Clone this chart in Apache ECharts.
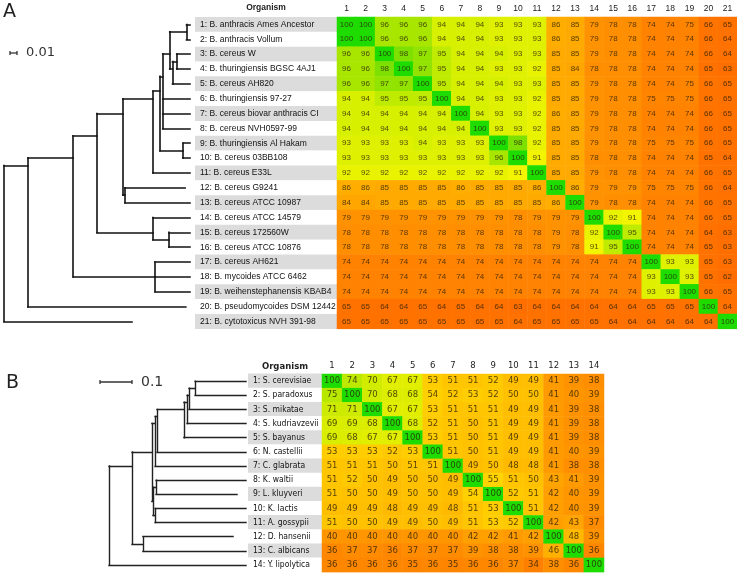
<!DOCTYPE html>
<html lang="en">
<head>
<meta charset="UTF-8">
<title>Sequence identity</title>
<script src="https://cdn.jsdelivr.net/npm/echarts@6/dist/echarts.min.js"></script>
<style>
    html, body { margin: 0; padding: 0; background: #fff; }
    #main { width: 737px; height: 575px; }
</style>
</head>
<body>
<div id="main"></div>
<script>
// ---- panel A: Bacillus genomes ----
var namesA = ['1: B. anthracis Ames Ancestor', '2: B. anthracis Vollum', '3: B. cereus W',
    '4: B. thuringiensis BGSC 4AJ1', '5: B. cereus AH820', '6: B. thuringiensis 97-27',
    '7: B. cereus biovar anthracis CI', '8: B. cereus NVH0597-99', '9: B. thuringiensis Al Hakam',
    '10: B. cereus 03BB108', '11: B. cereus E33L', '12: B. cereus G9241', '13: B. cereus ATCC 10987',
    '14: B. cereus ATCC 14579', '15: B. cereus 172560W', '16: B. cereus ATCC 10876',
    '17: B. cereus AH621', '18: B. mycoides ATCC 6462', '19: B. weihenstephanensis KBAB4',
    '20: B. pseudomycoides DSM 12442', '21: B. cytotoxicus NVH 391-98'];
var colsA = ['1','2','3','4','5','6','7','8','9','10','11','12','13','14','15','16','17','18','19','20','21'];
var identA = [
    [100,100,96,96,96,94,94,94,93,93,93,86,85,79,78,78,74,74,75,66,65],
    [100,100,96,96,96,94,94,94,93,93,93,86,85,79,78,78,74,74,74,66,64],
    [96,96,100,98,97,95,94,94,94,93,93,85,85,79,78,78,74,74,74,66,64],
    [96,96,98,100,97,95,94,94,93,93,92,85,84,78,78,78,74,74,74,65,63],
    [96,96,97,97,100,95,94,94,94,93,93,85,85,79,78,78,74,74,75,66,65],
    [94,94,95,95,95,100,94,94,93,93,92,85,85,79,78,78,75,75,75,66,65],
    [94,94,94,94,94,94,100,94,93,93,92,86,85,79,78,78,74,74,74,66,65],
    [94,94,94,94,94,94,94,100,93,93,92,85,85,79,78,78,74,74,74,66,65],
    [93,93,93,93,94,93,93,93,100,98,92,85,85,79,78,78,75,75,75,66,65],
    [93,93,93,93,93,93,93,93,96,100,91,85,85,78,78,78,74,74,74,65,64],
    [92,92,92,92,92,92,92,92,92,91,100,85,85,79,78,78,74,74,74,66,65],
    [86,86,85,85,85,85,86,85,85,85,86,100,86,79,79,79,75,75,75,66,64],
    [84,84,85,85,85,85,85,85,85,85,85,86,100,79,78,78,74,74,74,66,65],
    [79,79,79,79,79,79,79,79,79,78,79,79,79,100,92,91,74,74,74,66,65],
    [78,78,78,78,78,78,78,78,78,78,78,79,78,92,100,95,74,74,74,64,63],
    [78,78,78,78,78,78,78,78,78,78,78,79,78,91,95,100,74,74,74,65,63],
    [74,74,74,74,74,74,74,74,74,74,74,74,74,74,74,74,100,93,93,65,63],
    [74,74,74,74,74,74,74,74,74,74,74,74,74,74,74,74,93,100,93,65,62],
    [74,74,74,74,74,74,74,74,74,74,74,74,74,74,74,74,93,93,100,66,65],
    [65,65,64,64,65,64,65,64,64,63,64,64,64,64,64,64,65,65,65,100,64],
    [65,65,65,65,65,65,65,65,65,64,65,65,65,65,64,64,64,64,64,64,100]
];

// ---- panel B: yeasts ----
var namesB = ['1: S. cerevisiae', '2: S. paradoxus', '3: S. mikatae', '4: S. kudriavzevii',
    '5: S. bayanus', '6: N. castellii', '7: C. glabrata', '8: K. waltii', '9: L. kluyveri',
    '10: K. lactis', '11: A. gossypii', '12: D. hansenii', '13: C. albicans', '14: Y. lipolytica'];
var colsB = ['1','2','3','4','5','6','7','8','9','10','11','12','13','14'];
var identB = [
    [100,74,70,67,67,53,51,51,52,49,49,41,39,38],
    [75,100,70,68,68,54,52,53,52,50,50,41,40,39],
    [71,71,100,67,67,53,51,51,51,49,49,41,39,38],
    [69,69,68,100,68,52,51,50,51,49,49,41,39,38],
    [69,68,67,67,100,53,51,50,51,49,49,41,39,38],
    [53,53,53,52,53,100,51,50,51,49,49,41,40,39],
    [51,51,51,50,51,51,100,49,50,48,48,41,38,38],
    [51,52,50,49,50,50,49,100,55,51,50,43,41,39],
    [51,50,50,49,50,50,49,54,100,52,51,42,40,39],
    [49,49,49,48,49,49,48,51,53,100,51,42,40,39],
    [51,50,50,49,49,50,49,51,53,52,100,42,43,37],
    [40,40,40,40,40,40,40,42,42,41,42,100,48,39],
    [36,37,37,36,37,37,37,39,38,38,39,46,100,36],
    [36,36,36,36,35,36,35,36,36,37,34,38,36,100]
];

// trees: N(depth, children...) internal node, L(row, depth) leaf; depth = distance from root
function N(d) { return { d: d, c: Array.prototype.slice.call(arguments, 1) }; }
function L(i, d) { return { d: d, i: i }; }

var treeA = N(0,
    N(0.034,
        N(0.099,
            N(0.133,
                N(0.170,
                    N(0.213,
                        N(0.223,
                            N(0.227,
                                N(0.237,
                                    N(0.261, L(0, 0.266), L(1, 0.266)),
                                    N(0.241, N(0.247, L(2, 0.266), L(3, 0.266)), L(4, 0.266))),
                                L(5, 0.266), L(6, 0.266), L(7, 0.266)),
                            N(0.256, L(8, 0.266), L(9, 0.266))),
                        L(10, 0.266)),
                    N(0.173, L(11, 0.259), L(12, 0.266))),
                N(0.213, L(13, 0.266), N(0.236, L(14, 0.266), L(15, 0.266)))),
            N(0.216, L(16, 0.266), L(17, 0.266), L(18, 0.266))),
        L(19, 0.260)),
    L(20, 0.183));

var treeB = N(0,
    N(0.072,
        N(0.134,
            N(0.144,
                N(0.150,
                    N(0.234,
                        N(0.244,
                            N(0.250,
                                N(0.269, L(0, 0.428), L(1, 0.428)),
                                L(2, 0.428)),
                            L(3, 0.428)),
                        L(4, 0.428)),
                    L(5, 0.428)),
                L(6, 0.428)),
            N(0.1375,
                N(0.147, L(7, 0.428), L(8, 0.400)),
                N(0.144, L(9, 0.428), L(10, 0.428)))),
        N(0.106, L(11, 0.3875), L(12, 0.428))),
    L(13, 0.428));

// colour ramps (value -> colour)
var rampA = [[60, '#ff6a00'], [66, '#ff7400'], [74, '#ff8200'], [79, '#ff9200'], [86, '#ffae00'],
    [91, '#f2f400'], [94, '#d6f000'], [96, '#a8e600'], [98, '#7ee000'], [100, '#1fdc00']];
var rampB = [[34, '#ff8000'], [40, '#ff9600'], [48, '#ffba00'], [55, '#ffd400'], [67, '#e2ee00'],
    [75, '#b8e800'], [100, '#1fdc00']];

function hex2rgb(h) { return [parseInt(h.substr(1, 2), 16), parseInt(h.substr(3, 2), 16), parseInt(h.substr(5, 2), 16)]; }
function colorFor(v, ramp) {
    if (v <= ramp[0][0]) return ramp[0][1];
    for (var k = 1; k < ramp.length; k++) {
        if (v <= ramp[k][0]) {
            var t = (v - ramp[k - 1][0]) / (ramp[k][0] - ramp[k - 1][0]);
            var a = hex2rgb(ramp[k - 1][1]), b = hex2rgb(ramp[k][1]);
            return 'rgb(' + [0, 1, 2].map(function (j) { return Math.round(a[j] + (b[j] - a[j]) * t); }).join(',') + ')';
        }
    }
    return ramp[ramp.length - 1][1];
}

function heatData(m, ramp) {
    var out = [];
    for (var r = 0; r < m.length; r++) {
        for (var c = 0; c < m[r].length; c++) {
            out.push({ value: [c, r, m[r][c]], itemStyle: { color: colorFor(m[r][c], ramp) } });
        }
    }
    return out;
}

// y of a node = mean of its leaves' rows
function treeSegs(node, segs) {
    if (node.i !== undefined) { node.y = node.i; node.n = 1; return; }
    var sum = 0, n = 0, lo = Infinity, hi = -Infinity;
    node.c.forEach(function (ch) {
        treeSegs(ch, segs);
        sum += ch.y * ch.n; n += ch.n;
        lo = Math.min(lo, ch.y); hi = Math.max(hi, ch.y);
        segs.push({ coords: [[node.d, ch.y], [ch.d, ch.y]] });
    });
    node.y = sum / n; node.n = n;
    segs.push({ coords: [[node.d, lo], [node.d, hi]] });
    return segs;
}

// layout
var A = { top: 17, rowH: 14.85, heatLeft: 337, heatW: 400, labLeft: 195, treeLeft: 4, treeRight: 190,
          font: 'Liberation Sans', fs: 8.5, labFont: 'Liberation Sans', labFs: 8.5 };
var B = { top: 374, rowH: 14.15, heatLeft: 322, heatW: 282, labLeft: 248, treeLeft: 109, treeRight: 246,
          font: 'DejaVu Sans', fs: 8.5, labFont: '"DejaVu Sans Condensed", "DejaVu Sans"', labFs: 8.5 };

function treeGridAxes(P, n, maxD, idx) {
    return {
        grid: { left: P.treeLeft, top: P.top, width: P.treeRight - P.treeLeft, height: P.rowH * n },
        x: { type: 'value', gridIndex: idx, min: 0, max: maxD, show: false },
        y: { type: 'value', gridIndex: idx, min: -0.5, max: n - 0.5, inverse: true, show: false }
    };
}

function heatAxes(P, names, cols, idx) {
    var labW = P.heatLeft - P.labLeft;
    var cell = function (bg) {
        return { backgroundColor: bg, width: labW - 5, height: Math.ceil(P.rowH), padding: [0, 0, 0, 5],
                 fontSize: P.labFs, fontFamily: P.labFont, color: '#111', lineHeight: Math.ceil(P.rowH) };
    };
    return {
        grid: { left: P.heatLeft, top: P.top, width: P.heatW, height: P.rowH * names.length },
        x: {
            type: 'category', gridIndex: idx, data: cols, position: 'top',
            axisLine: { show: false }, axisTick: { show: false },
            axisLabel: { margin: 4, fontSize: P.fs, color: '#222', fontFamily: P.font, interval: 0 }
        },
        y: {
            type: 'category', gridIndex: idx, data: names, inverse: true,
            axisLine: { show: false }, axisTick: { show: false },
            axisLabel: {
                interval: 0, margin: labW, align: 'left',
                formatter: function (v, i) { return '{' + (i % 2 === 0 ? 'g' : 'w') + '|' + v + '}'; },
                rich: { g: cell('#dcdcdc'), w: cell('#ffffff') }
            }
        }
    };
}

var tA = treeGridAxes(A, namesA.length, 0.266, 0);
var hA = heatAxes(A, namesA, colsA, 1);
var tB = treeGridAxes(B, namesB.length, 0.428, 2);
var hB = heatAxes(B, namesB, colsB, 3);

function heatSeries(m, ramp, idx, P, fs) {
    return {
        type: 'heatmap', xAxisIndex: idx, yAxisIndex: idx,
        data: heatData(m, ramp),
        label: { show: true, formatter: function (p) { return p.value[2]; }, fontSize: fs, fontFamily: P.font, color: 'rgba(40,30,0,0.8)' },
        emphasis: { disabled: true }
    };
}

function treeSeries(tree, idx, w, col) {
    return {
        type: 'lines', coordinateSystem: 'cartesian2d', xAxisIndex: idx, yAxisIndex: idx,
        data: treeSegs(tree, []), silent: true,
        lineStyle: { color: col, width: w, opacity: 1, cap: 'square' }
    };
}

var option = {
    animation: false,
    grid: [tA.grid, hA.grid, tB.grid, hB.grid],
    xAxis: [tA.x, hA.x, tB.x, hB.x],
    yAxis: [tA.y, hA.y, tB.y, hB.y],
    series: [
        treeSeries(treeA, 0, 1.6, '#111'),
        heatSeries(identA, rampA, 1, A, 8),
        treeSeries(treeB, 2, 1.4, '#222'),
        heatSeries(identB, rampB, 3, B, 8.5)
    ]
};

var chart = echarts.init(document.getElementById('main'));
chart.setOption(option);

// scale bars and panel letters
function scaleBar(gridIdx, len, x, y, text, fs, font) {
    var p0 = chart.convertToPixel({ gridIndex: gridIdx }, [0, 0]);
    var p1 = chart.convertToPixel({ gridIndex: gridIdx }, [len, 0]);
    var w = p1[0] - p0[0];
    var st = { stroke: '#333', lineWidth: 1.3 };
    return [
        { type: 'line', shape: { x1: x, y1: y, x2: x + w, y2: y }, style: st },
        { type: 'line', shape: { x1: x, y1: y - 2, x2: x, y2: y + 2 }, style: st },
        { type: 'line', shape: { x1: x + w, y1: y - 2, x2: x + w, y2: y + 2 }, style: st },
        { type: 'text', x: x + w + 9, y: y, style: { text: text, fontSize: fs, fontFamily: font, fill: '#333', verticalAlign: 'middle' } }
    ];
}

var graphics = [
    { type: 'text', x: 3, y: 3, style: { text: 'A', fontSize: 19, fontFamily: 'DejaVu Sans', fill: '#222' } },
    { type: 'text', x: 6, y: 374, style: { text: 'B', fontSize: 19, fontFamily: 'DejaVu Sans', fill: '#222' } },
    { type: 'text', x: (A.labLeft + A.heatLeft) / 2, y: A.top - 9, style: { text: 'Organism', fontSize: 8.5, fontWeight: 'bold', fontFamily: A.font, fill: '#222', align: 'center', verticalAlign: 'middle' } },
    { type: 'text', x: (B.labLeft + B.heatLeft) / 2, y: B.top - 7, style: { text: 'Organism', fontSize: 8.5, fontWeight: 'bold', fontFamily: B.font, fill: '#222', align: 'center', verticalAlign: 'middle' } }
].concat(scaleBar(0, 0.01, 10, 53, '0.01', 13, 'DejaVu Sans'))
 .concat(scaleBar(2, 0.1, 100, 382, '0.1', 14, 'DejaVu Sans'));

chart.setOption({ graphic: graphics });
</script>
</body>
</html>
